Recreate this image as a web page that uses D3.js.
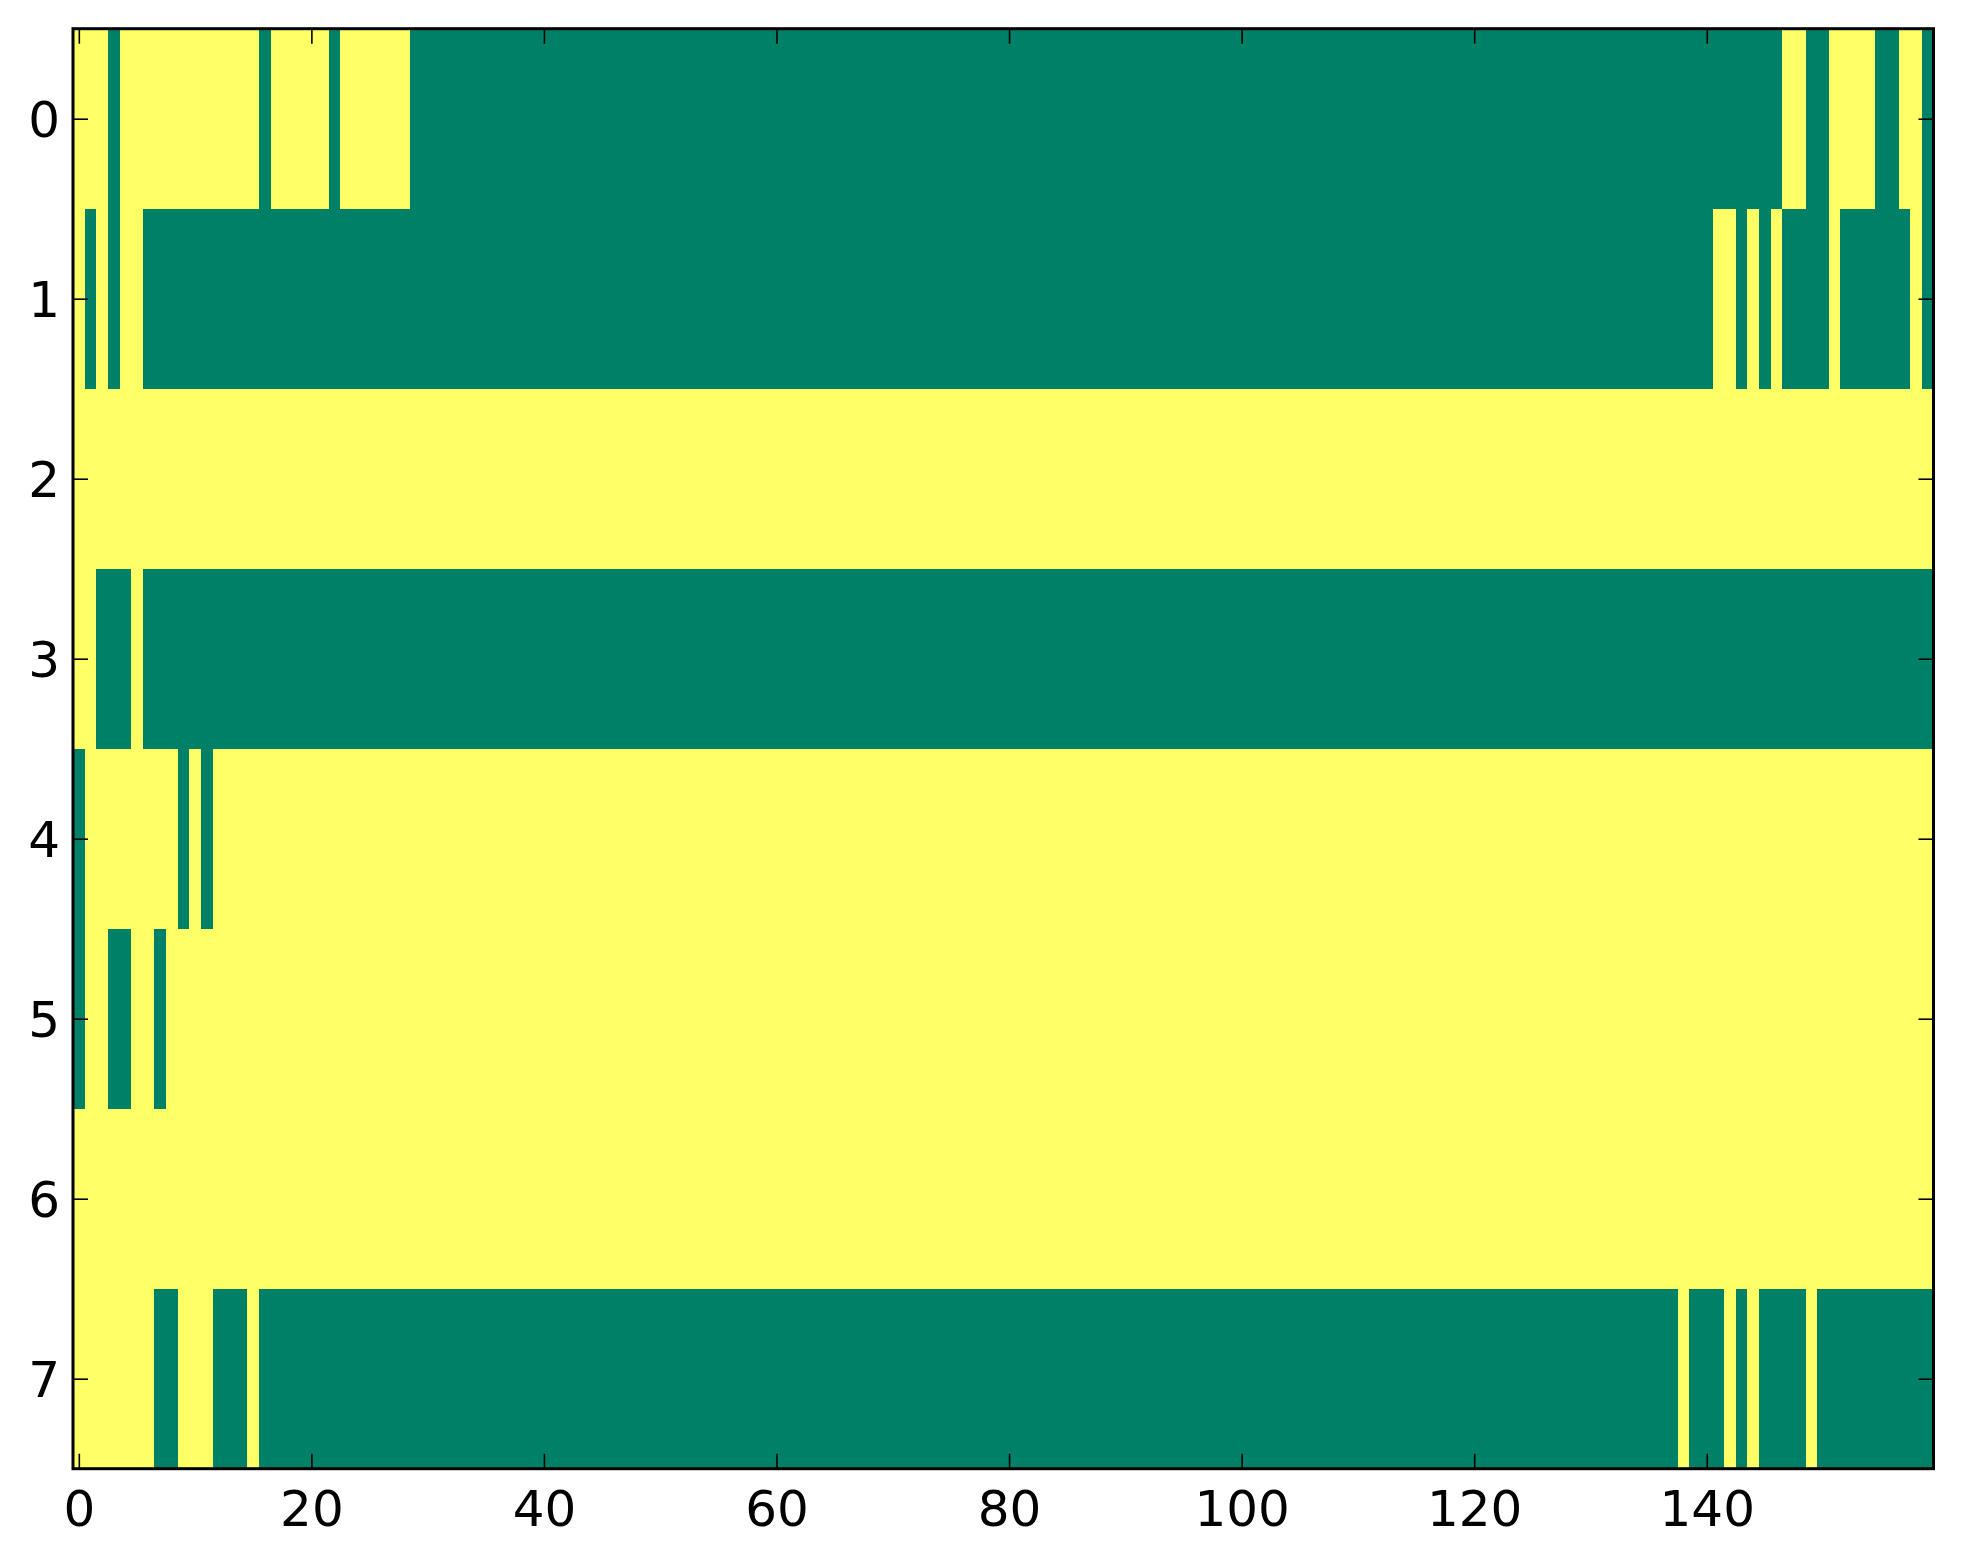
<!DOCTYPE html>
<html>
<head>
<meta charset="utf-8">
<script src="https://cdn.jsdelivr.net/npm/d3@7"></script>
<style>
  body { margin: 0; background: #ffffff; }
  svg { display: block; }
  .tick text { font-family: "DejaVu Sans", sans-serif; font-size: 50px; fill: #000; }
  .tick line { stroke: #000; stroke-width: 1.6; }
</style>
</head>
<body>
<div id="chart"></div>
<script>
// cell values, row by row, as runs of [value, length]
// value 1 = top of the colormap (yellow), 0 = bottom (green)
var row0 = [[1,3],[0,1],[1,12],[0,1],[1,5],[0,1],[1,6],[0,118],[1,2],[0,2],[1,4],[0,2],[1,2],[0,1]];
var row1 = [[1,1],[0,1],[1,1],[0,1],[1,2],[0,135],[1,2],[0,1],[1,1],[0,1],[1,1],[0,4],[1,1],[0,6],[1,1],[0,1]];
var row2 = [[1,160]];
var row3 = [[1,2],[0,3],[1,1],[0,154]];
var row4 = [[0,1],[1,8],[0,1],[1,1],[0,1],[1,148]];
var row5 = [[0,1],[1,2],[0,2],[1,2],[0,1],[1,152]];
var row6 = [[1,160]];
var row7 = [[1,7],[0,2],[1,3],[0,3],[1,1],[0,122],[1,1],[0,3],[1,1],[0,1],[1,1],[0,4],[1,1],[0,10]];

var rows = [row0, row1, row2, row3, row4, row5, row6, row7];
var nCols = 160;

var xTicks = [0, 20, 40, 60, 80, 100, 120, 140];
var yTicks = [0, 1, 2, 3, 4, 5, 6, 7];

// expand runs into a flat list of cells
var cells = [];
rows.forEach(function(runs, r) {
  var c = 0;
  runs.forEach(function(run) {
    for (var k = 0; k < run[1]; k++) {
      cells.push({row: r, col: c, value: run[0]});
      c++;
    }
  });
});

var W = 1963, H = 1564;
var margin = {top: 28.7, right: 29.5, bottom: 95.3, left: 73};
var width = W - margin.left - margin.right,
    height = H - margin.top - margin.bottom;

var svg = d3.select("#chart")
  .append("svg")
    .attr("width", W)
    .attr("height", H)
  .append("g")
    .attr("transform", "translate(" + margin.left + "," + margin.top + ")");

var x = d3.scaleLinear()
  .domain([-0.5, nCols - 0.5])
  .range([0, width]);

var y = d3.scaleLinear()
  .domain([-0.5, rows.length - 0.5])
  .range([0, height]);

// matplotlib "summer" colormap end points
var color = d3.scaleLinear()
  .domain([0, 1])
  .range(["#008066", "#ffff66"]);

svg.append("g")
  .attr("shape-rendering", "crispEdges")
  .selectAll("rect")
  .data(cells)
  .enter()
  .append("rect")
    .attr("x", function(d) { return x(d.col - 0.5); })
    .attr("y", function(d) { return y(d.row - 0.5); })
    .attr("width", function(d) { return x(d.col + 0.5) - x(d.col - 0.5); })
    .attr("height", function(d) { return y(d.row + 0.5) - y(d.row - 0.5); })
    .style("fill", function(d) { return color(d.value); });

// axes, ticks pointing inward on all four sides
var bottomAxis = svg.append("g")
  .attr("transform", "translate(0," + height + ")")
  .call(d3.axisBottom(x).tickValues(xTicks).tickSize(-15).tickPadding(22));

var topAxis = svg.append("g")
  .call(d3.axisTop(x).tickValues(xTicks).tickSize(-15).tickFormat(""));

var leftAxis = svg.append("g")
  .call(d3.axisLeft(y).tickValues(yTicks).tickSize(-15).tickPadding(13));

var rightAxis = svg.append("g")
  .attr("transform", "translate(" + width + ",0)")
  .call(d3.axisRight(y).tickValues(yTicks).tickSize(-15).tickFormat(""));

[bottomAxis, topAxis, leftAxis, rightAxis].forEach(function(a) {
  a.select(".domain").remove();
  a.attr("font-family", null).attr("font-size", null);
});

leftAxis.selectAll("text").attr("dy", "0.36em");

// frame
svg.append("rect")
  .attr("width", width)
  .attr("height", height)
  .style("fill", "none")
  .style("stroke", "#000")
  .style("stroke-width", 3);
</script>
</body>
</html>
